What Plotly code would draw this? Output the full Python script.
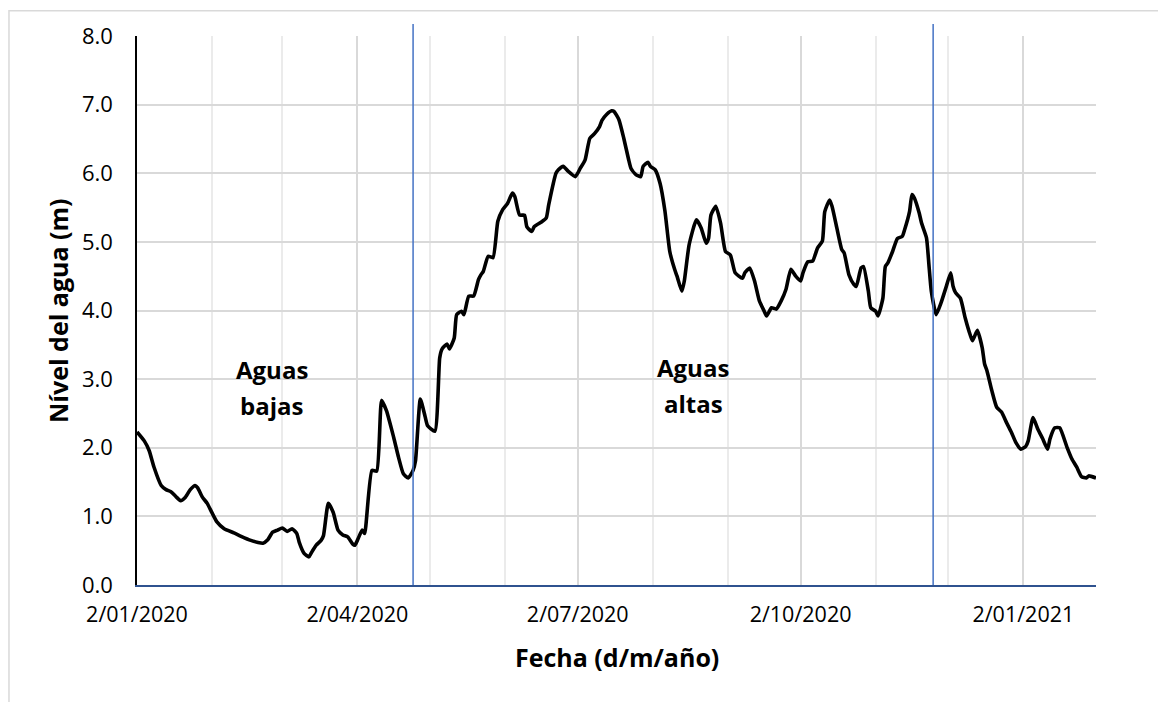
import pandas as pd
import plotly.graph_objects as go

# ---- data ----
start_date = "2020-01-02"
# day offsets from 2 Jan 2020
day_offsets = [0, 3, 5, 7, 10, 12, 14, 16, 18, 20, 22, 24, 25, 27, 29, 31, 33, 36, 40, 43,
               47, 50, 52, 54, 56, 58, 60, 62, 64, 66, 67, 69, 71, 72, 74, 76, 77, 79, 81, 83,
               85, 87, 89, 90, 91, 93, 94, 97, 99, 101, 103, 106, 108, 110, 112, 114, 115, 117, 119, 120,
               123, 125, 126, 128, 129, 131, 132, 134, 135, 137, 139, 141, 142, 143, 145, 147, 149, 151, 153, 155,
               156, 158, 160, 161, 163, 164, 167, 169, 170, 173, 174, 176, 178, 181, 183, 185, 187, 189, 191, 192,
               194, 196, 197, 199, 201, 203, 204, 206, 208, 209, 211, 212, 214, 216, 218, 220, 222, 223, 225, 226,
               228, 231, 233, 235, 236, 237, 239, 241, 243, 245, 247, 250, 251, 253, 255, 257, 259, 260, 262, 264,
               266, 268, 270, 272, 274, 275, 277, 279, 281, 283, 284, 286, 287, 289, 291, 292, 294, 296, 297, 299,
               300, 302, 303, 305, 306, 308, 309, 310, 312, 314, 316, 317, 319, 320, 321, 323, 324, 326, 327, 328,
               330, 332, 334, 336, 337, 338, 340, 342, 344, 345, 347, 349, 350, 351, 353, 355, 357, 359, 361, 363,
               365, 367, 368, 370, 372, 374, 376, 377, 379, 381, 384, 386, 388, 390, 392, 393, 396]
water_level = [2.23, 2.10, 1.96, 1.72, 1.45, 1.39, 1.36, 1.29, 1.23, 1.28, 1.39, 1.45, 1.42, 1.28, 1.19, 1.05, 0.92, 0.82, 0.76, 0.71,
               0.65, 0.62, 0.61, 0.66, 0.77, 0.80, 0.83, 0.78, 0.82, 0.75, 0.62, 0.46, 0.41, 0.47, 0.58, 0.65, 0.72, 1.19, 1.06, 0.80,
               0.73, 0.70, 0.60, 0.58, 0.65, 0.80, 0.75, 1.67, 1.66, 2.69, 2.54, 2.15, 1.86, 1.62, 1.56, 1.67, 1.81, 2.71, 2.45, 2.32,
               2.24, 3.31, 3.44, 3.51, 3.44, 3.60, 3.94, 3.99, 3.94, 4.21, 4.21, 4.45, 4.52, 4.57, 4.79, 4.77, 5.30, 5.47, 5.56, 5.71,
               5.66, 5.39, 5.39, 5.22, 5.15, 5.22, 5.29, 5.35, 5.54, 6.00, 6.05, 6.10, 6.03, 5.95, 6.07, 6.19, 6.51, 6.58, 6.68, 6.77,
               6.86, 6.91, 6.90, 6.78, 6.51, 6.20, 6.07, 5.98, 5.95, 6.10, 6.16, 6.10, 6.05, 5.85, 5.45, 4.86, 4.60, 4.50, 4.28, 4.43,
               4.96, 5.32, 5.20, 4.98, 5.05, 5.39, 5.52, 5.27, 4.86, 4.81, 4.55, 4.47, 4.55, 4.62, 4.43, 4.14, 3.99, 3.92, 4.04, 4.02,
               4.14, 4.31, 4.60, 4.50, 4.43, 4.55, 4.71, 4.72, 4.91, 5.01, 5.44, 5.61, 5.52, 5.20, 4.89, 4.84, 4.52, 4.38, 4.35, 4.62,
               4.64, 4.28, 4.04, 3.99, 3.92, 4.18, 4.64, 4.69, 4.86, 5.05, 5.08, 5.18, 5.44, 5.69, 5.64, 5.42, 5.27, 5.06, 4.67, 4.28,
               3.94, 4.11, 4.33, 4.55, 4.35, 4.26, 4.18, 3.89, 3.65, 3.56, 3.71, 3.46, 3.22, 3.12, 2.83, 2.59, 2.52, 2.37, 2.23, 2.07,
               1.98, 2.02, 2.10, 2.44, 2.27, 2.13, 1.98, 2.13, 2.29, 2.29, 2.01, 1.84, 1.72, 1.58, 1.56, 1.59, 1.56]
end_date = "2021-02-01"
season_limits = ["2020-04-25", "2020-11-25 18:00"]
season_labels = [("Aguas", "bajas"), ("Aguas", "altas")]
x_title = "Fecha (d/m/año)"
y_title = "Nível del agua (m)"

dates = pd.Timestamp(start_date) + pd.to_timedelta(day_offsets, unit="D")

FONT = "Open Sans"
fig = go.Figure()
fig.add_trace(go.Scatter(x=dates, y=water_level, mode="lines",
                         line=dict(color="black", width=3.6, shape="spline", smoothing=0.5),
                         showlegend=False, hoverinfo="skip"))

for d in season_limits:
    fig.add_shape(type="line", xref="x", yref="paper", x0=d, x1=d, y0=0, y1=1.022,
                  line=dict(color="#4472C4", width=1.5), layer="above")

# outer chart border
fig.add_shape(type="rect", xref="paper", yref="paper", x0=-0.1335, x1=1.09, y0=-0.25, y1=1.046,
              line=dict(color="#D9D9D9", width=1.5), fillcolor="rgba(0,0,0,0)")

label_pos = [(0.1408, 0.392, 0.3267), (0.5798, 0.3956, 0.3303)]
for (l1, l2), (xp, y1, y2) in zip(season_labels, label_pos):
    for txt, yy in ((l1, y1), (l2, y2)):
        fig.add_annotation(text=f"<b>{txt}</b>", xref="paper", yref="paper", x=xp, y=yy,
                           showarrow=False, xanchor="center", yanchor="middle",
                           font=dict(family=FONT, size=24, color="black"))

fig.add_annotation(text=f"<b>{x_title}</b>", xref="paper", yref="paper", x=0.5, y=-0.1307,
                   showarrow=False, xanchor="center", yanchor="middle",
                   font=dict(family=FONT, size=25, color="black"))
fig.add_annotation(text=f"<b>{y_title}</b>", xref="paper", yref="paper", x=-0.0824, y=0.5009,
                   showarrow=False, xanchor="center", yanchor="middle", textangle=-90,
                   font=dict(family=FONT, size=25, color="black"))

fig.update_layout(
    width=1158, height=694,
    margin=dict(l=129, r=70, t=26, b=117),
    paper_bgcolor="white", plot_bgcolor="white",
    font=dict(family=FONT, size=22, color="black"),
    xaxis=dict(type="date", range=[start_date, end_date],
               tick0=start_date, dtick="M3", tickformat="%-d/%m/%Y",
               showgrid=True, gridcolor="#D9D9D9", gridwidth=1.6,
               minor=dict(dtick="M1", tick0=start_date, showgrid=True, gridcolor="#EBEBEB", gridwidth=1.6),
               showline=True, linecolor="#2F528F", linewidth=1.5,
               ticks="", ticklabelstandoff=9, zeroline=False,
               tickfont=dict(family=FONT, size=21.5, color="black")),
    yaxis=dict(range=[0, 8], dtick=1, tick0=0, tickformat=".1f",
               showgrid=True, gridcolor="#D9D9D9", gridwidth=1.6,
               showline=True, linecolor="black", linewidth=1.5,
               ticks="", ticklabelstandoff=18, zeroline=False,
               tickfont=dict(family=FONT, size=22, color="black")),
)

fig.write_html("out.html")
